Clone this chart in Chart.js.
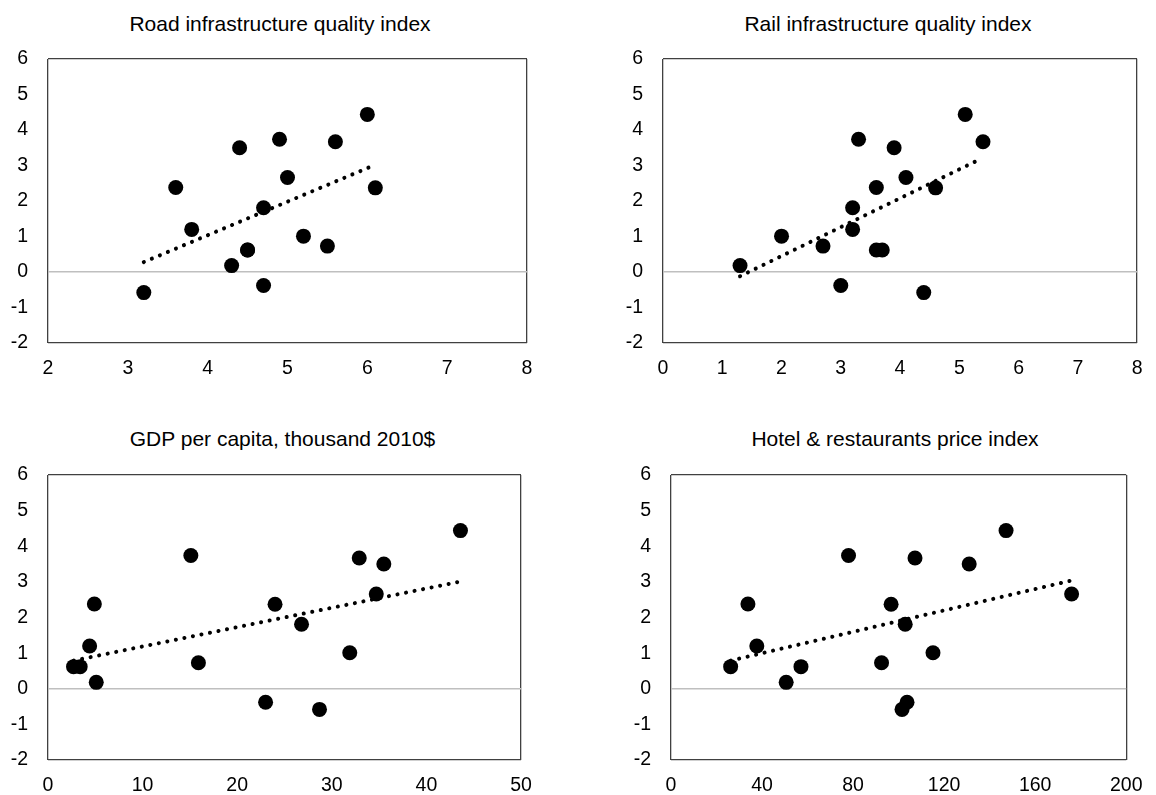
<!DOCTYPE html>
<html>
<head>
<meta charset="utf-8">
<script src="https://cdn.jsdelivr.net/npm/chart.js@4"></script>
<style>
  html, body { margin: 0; padding: 0; background: #fff; }
  #page { position: relative; width: 1156px; height: 795px; overflow: hidden; }
  .panel { position: absolute; }
  .title {
    position: absolute; width: 600px; text-align: center;
    font: 21px/25px 'Liberation Sans', Arial, sans-serif; color: #000;
    white-space: nowrap;
  }
</style>
</head>
<body>
<div id="page">
  <div class="title" style="left:-20px; top:10.5px;">Road infrastructure quality index</div>
  <div class="title" style="left:588px; top:10.5px;">Rail infrastructure quality index</div>
  <div class="title" style="left:-17.5px; top:425.5px;">GDP per capita, thousand 2010$</div>
  <div class="title" style="left:595px; top:425.5px;">Hotel &amp; restaurants price index</div>

  <div class="panel" style="left:0; top:0; width:578px; height:398px;"><canvas id="road"></canvas></div>
  <div class="panel" style="left:578px; top:0; width:578px; height:398px;"><canvas id="rail"></canvas></div>
  <div class="panel" style="left:0; top:398px; width:578px; height:397px;"><canvas id="gdp"></canvas></div>
  <div class="panel" style="left:578px; top:398px; width:578px; height:397px;"><canvas id="hotel"></canvas></div>
</div>

<script>
// Valori: stessa variabile dipendente per i quattro pannelli
const outcome = [4.44, 3.74, 3.67, 3.50, 2.66, 2.38, 2.37, 1.81, 1.20, 1.01, 0.73, 0.62, 0.62, 0.18, -0.38, -0.58];

const roadX  = [6.0, 4.9, 5.6, 4.4, 5.0, 3.6, 6.1, 4.7, 3.8, 5.2, 5.5, 4.5, 4.5, 4.3, 4.7, 3.2];
const railX  = [5.1, 3.3, 5.4, 3.9, 4.1, 3.6, 4.6, 3.2, 3.2, 2.0, 2.7, 3.6, 3.7, 1.3, 3.0, 4.4];
const gdpX   = [43.6, 15.1, 32.9, 35.5, 34.7, 4.9, 24.0, 26.8, 4.4, 31.9, 15.9, 2.7, 3.4, 5.1, 23.0, 28.7];
const hotelX = [147.2, 78.0, 107.2, 131.0, 176.0, 33.8, 96.7, 102.9, 37.7, 115.1, 92.5, 26.2, 57.1, 50.6, 103.7, 101.5];

// Linee di tendenza (estremi)
const roadTrendX = [3.2, 6.1],    roadTrendY = [0.28, 3.02];
const railTrendX = [1.3, 5.33],   railTrendY = [-0.12, 3.16];
const gdpTrendX = [2.7, 43.6],    gdpTrendY = [0.79, 3.01];
const hotelTrendX = [26.2, 176],  hotelTrendY = [0.79, 3.04];

// Assi
const yMin = -2, yMax = 6;
const roadAxis = { min: 2, max: 8, step: 1 };
const railAxis = { min: 0, max: 8, step: 1 };
const gdpAxis = { min: 0, max: 50, step: 10 };
const hotelAxis = { min: 0, max: 200, step: 40 };

Chart.defaults.font.family = "'Liberation Sans', Arial, sans-serif";
Chart.defaults.color = '#000';

const FRAME = '#404040';
const ZERO = '#bfbfbf';

function toPoints(xs, ys) {
    return xs.map((x, i) => ({ x: x, y: ys[i] }));
}

// Crea un pannello: layout = { yWidth, xHeight, top, right }
function makePanel(id, xs, axis, trendX, trendY, layout) {
    const ctx = document.getElementById(id).getContext('2d');
    return new Chart(ctx, {
        type: 'scatter',
        data: {
            datasets: [{
                type: 'line',
                data: toPoints(trendX, trendY),
                borderColor: '#000',
                borderWidth: 4,
                borderDash: [0.1, 8.6],
                borderCapStyle: 'round',
                pointRadius: 0,
                fill: false
            }, {
                data: toPoints(xs, outcome),
                backgroundColor: '#000',
                pointRadius: 7.5,
                pointBorderWidth: 0,
                pointHoverRadius: 7.5
            }]
        },
        options: {
            responsive: true,
            maintainAspectRatio: false,
            animation: false,
            layout: { padding: { top: layout.top, right: layout.right, left: 0, bottom: 0 } },
            plugins: { legend: { display: false }, tooltip: { enabled: false }, title: { display: false } },
            scales: {
                x: {
                    type: 'linear',
                    min: axis.min,
                    max: axis.max,
                    ticks: { stepSize: axis.step, padding: 13.5, font: { size: 19.5 }, color: '#000', maxRotation: 0 },
                    grid: {
                        drawTicks: false,
                        color: c => (c.tick.value === axis.min || c.tick.value === axis.max) ? FRAME : 'transparent',
                        lineWidth: 1.3
                    },
                    border: { display: false },
                    afterFit: s => { s.height = layout.xHeight; }
                },
                y: {
                    min: yMin,
                    max: yMax,
                    ticks: { stepSize: 1, padding: 20, font: { size: 19.5 }, color: '#000' },
                    grid: {
                        drawTicks: false,
                        color: c => c.tick.value === 0 ? ZERO :
                            ((c.tick.value === yMin || c.tick.value === yMax) ? FRAME : 'transparent'),
                        lineWidth: c => c.tick.value === 0 ? 1.6 : 1.3
                    },
                    border: { display: false },
                    afterFit: s => { s.width = layout.yWidth; }
                }
            }
        }
    });
}

document.addEventListener('DOMContentLoaded', () => {
    makePanel('road', roadX, roadAxis, roadTrendX, roadTrendY, { yWidth: 48, xHeight: 55, top: 59, right: 51 });
    makePanel('rail', railX, railAxis, railTrendX, railTrendY, { yWidth: 85, xHeight: 55, top: 59, right: 17 });
    makePanel('gdp', gdpX, gdpAxis, gdpTrendX, gdpTrendY, { yWidth: 48, xHeight: 35, top: 77, right: 57 });
    makePanel('hotel', hotelX, hotelAxis, hotelTrendX, hotelTrendY, { yWidth: 93, xHeight: 35, top: 77, right: 20 });
});
</script>
</body>
</html>
